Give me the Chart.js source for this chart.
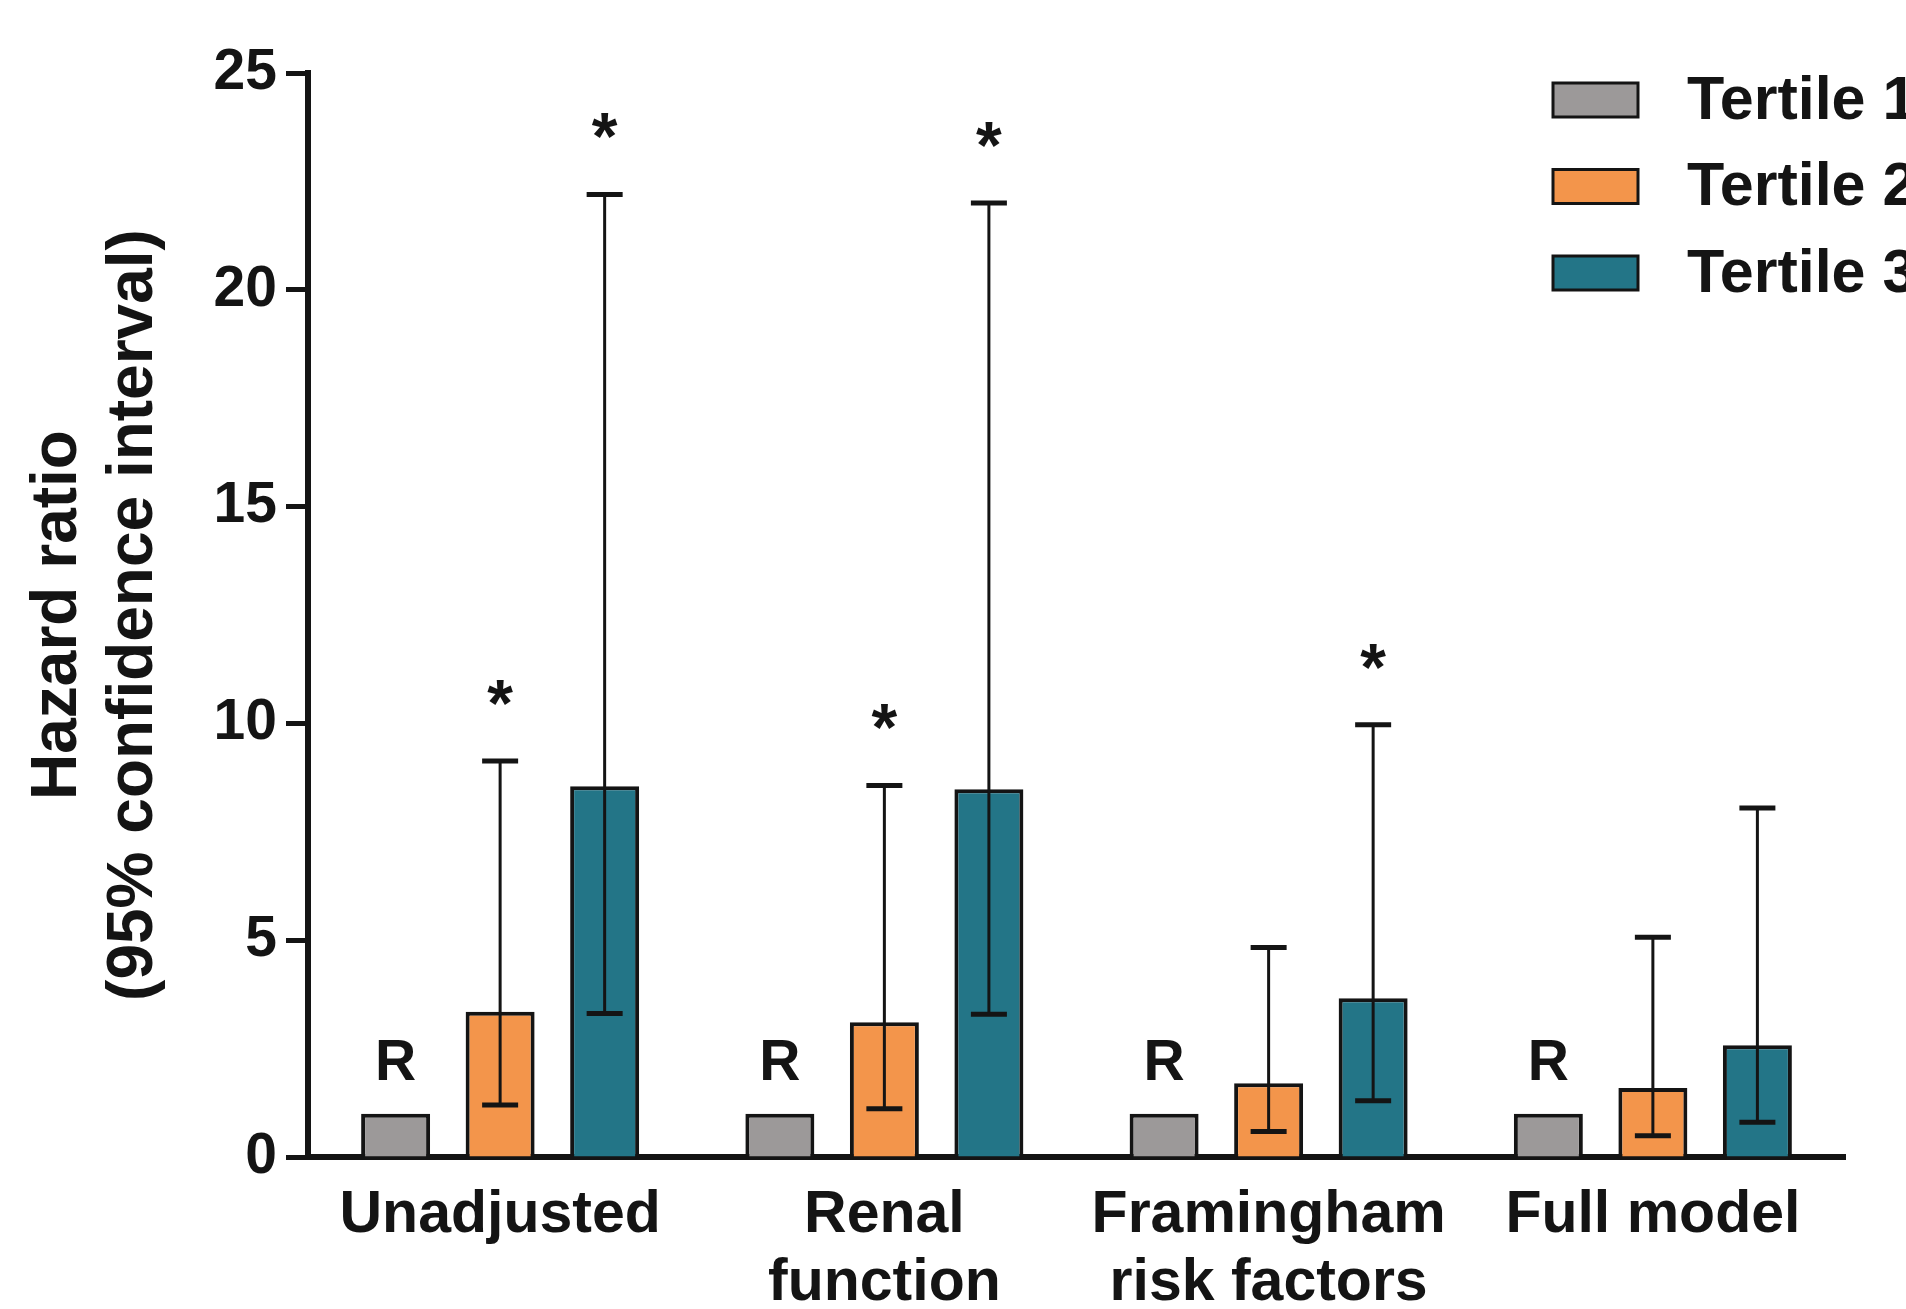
<!DOCTYPE html>
<html>
<head>
<meta charset="utf-8">
<script src="https://cdn.jsdelivr.net/npm/chart.js@4.4.1/dist/chart.umd.min.js"></script>
<style>
  html, body { margin: 0; padding: 0; background: #fff; overflow: hidden; }
  #wrap { width: 1906px; height: 1330px; }
</style>
</head>
<body>
<div id="wrap"><canvas id="hrChart" width="1906" height="1330"></canvas></div>
<script>
const categories = ['Unadjusted', ['Renal', 'function'], ['Framingham', 'risk factors'], 'Full model'];
const seriesNames = ['Tertile 1', 'Tertile 2', 'Tertile 3'];
const seriesColors = ['#9c9999', '#f3954b', '#237587'];

// hazard ratios
const tertile1 = [1, 1, 1, 1];
const tertile2 = [3.35, 3.11, 1.70, 1.59];
const tertile3 = [8.55, 8.48, 3.66, 2.58];

// 95% CI
const tertile2Low = [1.20, 1.11, 0.59, 0.49];
const tertile2High = [9.13, 8.57, 4.83, 5.07];
const tertile3Low = [3.31, 3.29, 1.30, 0.80];
const tertile3High = [22.2, 22.0, 9.97, 8.05];

// significance marks (*)
const tertile2Sig = [true, true, false, false];
const tertile3Sig = [true, true, true, false];

const yMin = 0, yMax = 25, yStep = 5;

const FONT = "'Liberation Sans', Arial, sans-serif";
const INK = '#141414';

const errorBars = {
  id: 'errorBars',
  afterDatasetsDraw(chart) {
    const ctx = chart.ctx;
    const y = chart.scales.y;
    ctx.save();
    ctx.strokeStyle = INK;
    ctx.fillStyle = INK;
    ctx.textAlign = 'center';
    chart.data.datasets.forEach((ds, i) => {
      const bars = chart.getDatasetMeta(i).data;
      if (ds.refLabel) {
        ctx.font = 'bold 57px ' + FONT;
        ctx.textBaseline = 'middle';
        bars.forEach(bar => ctx.fillText(ds.refLabel, bar.x, bar.y - 49));
      }
      if (!ds.errLow) return;
      bars.forEach((bar, j) => {
        const top = y.getPixelForValue(ds.errHigh[j]);
        const bot = y.getPixelForValue(ds.errLow[j]);
        ctx.lineWidth = 3;
        ctx.beginPath();
        ctx.moveTo(bar.x, top);
        ctx.lineTo(bar.x, bot);
        ctx.stroke();
        ctx.lineWidth = 5;
        ctx.beginPath();
        ctx.moveTo(bar.x - 18, top); ctx.lineTo(bar.x + 18, top);
        ctx.moveTo(bar.x - 18, bot); ctx.lineTo(bar.x + 18, bot);
        ctx.stroke();
        if (ds.sig[j]) {
          ctx.font = 'bold 66px ' + FONT;
          ctx.textBaseline = 'alphabetic';
          ctx.fillText('*', bar.x, top - 72 + 37);
        }
      });
    });
    ctx.restore();
  }
};

const boxLegend = {
  id: 'boxLegend',
  afterDraw(chart) {
    const ctx = chart.ctx;
    ctx.save();
    chart.data.datasets.forEach((ds, i) => {
      const cy = 100 + i * 86.5;
      ctx.fillStyle = ds.backgroundColor;
      ctx.fillRect(1553, cy - 17, 85, 34);
      ctx.lineWidth = 3;
      ctx.strokeStyle = INK;
      ctx.strokeRect(1553, cy - 17, 85, 34);
      ctx.fillStyle = INK;
      ctx.font = 'bold 61px ' + FONT;
      ctx.textBaseline = 'middle';
      ctx.textAlign = 'left';
      ctx.fillText(ds.label, 1687, cy + 2);
    });
    ctx.restore();
  }
};

const barStyle = { borderColor: INK, borderWidth: 4, categoryPercentage: 0.816, barPercentage: 0.66 };

new Chart(document.getElementById('hrChart'), {
  type: 'bar',
  data: {
    labels: categories,
    datasets: [
      { label: seriesNames[0], data: tertile1, backgroundColor: seriesColors[0], refLabel: 'R', ...barStyle },
      { label: seriesNames[1], data: tertile2, backgroundColor: seriesColors[1],
        errLow: tertile2Low, errHigh: tertile2High, sig: tertile2Sig, ...barStyle },
      { label: seriesNames[2], data: tertile3, backgroundColor: seriesColors[2],
        errLow: tertile3Low, errHigh: tertile3High, sig: tertile3Sig, ...barStyle }
    ]
  },
  options: {
    responsive: false,
    animation: false,
    layout: { padding: { top: 73, right: 61, left: 0, bottom: 0 } },
    plugins: {
      legend: { display: false },
      tooltip: { enabled: false }
    },
    scales: {
      x: {
        grid: { display: false, drawTicks: false },
        border: { display: true, width: 6, color: INK },
        ticks: { color: INK, padding: 25, font: { family: FONT, size: 59, weight: 'bold', lineHeight: 1.15 } },
        afterFit: s => { s.height = 1330 - 1157; }
      },
      y: {
        min: yMin,
        max: yMax,
        ticks: { stepSize: yStep, color: INK, padding: 9, font: { family: FONT, size: 57, weight: 'bold' } },
        grid: { drawOnChartArea: false, drawTicks: true, tickLength: 22, tickWidth: 5, tickColor: INK },
        border: { display: true, width: 6, color: INK },
        title: {
          display: true,
          text: ['Hazard ratio', '(95% confidence interval)'],
          color: INK,
          padding: { top: 20, bottom: 0 },
          font: { family: FONT, size: 64, weight: 'bold', lineHeight: 1.19 }
        },
        afterFit: s => { s.width = 308; }
      }
    }
  },
  plugins: [errorBars, boxLegend]
});
</script>
</body>
</html>
